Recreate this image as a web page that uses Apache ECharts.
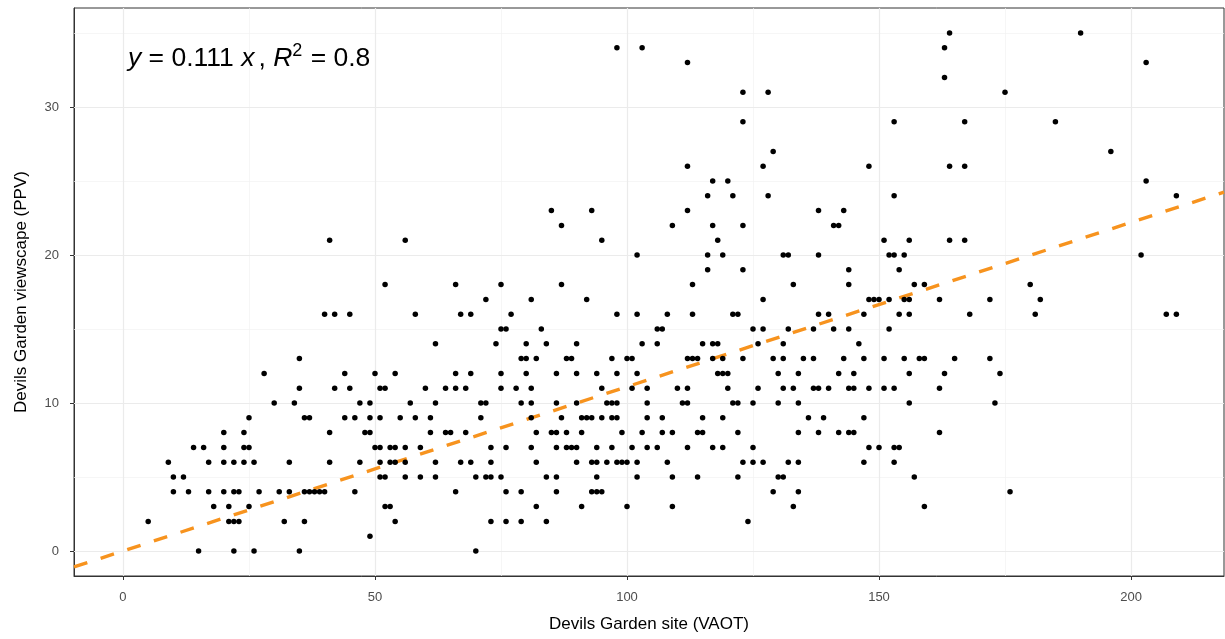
<!DOCTYPE html>
<html>
<head>
<meta charset="utf-8">
<script src="https://cdn.jsdelivr.net/npm/echarts@6/dist/echarts.min.js"></script>
<style>
  html, body { margin: 0; padding: 0; background: #fff; }
  #chart { width: 1225px; height: 639px; }
</style>
</head>
<body>
<div id="chart"></div>
<script>
// PPV levels (y) and the VAOT values (x) read at each level
const ppvLevels = [35, 34, 33, 32, 31, 29, 27, 26, 25, 24, 23, 22, 21, 20, 19, 18, 17, 16, 15, 14, 13, 12, 11, 10, 9, 8, 7, 6, 5, 4, 3, 2, 1, 0];
const vaotByLevel = [
  [164, 190],
  [98, 103, 163],
  [112, 203],
  [163],
  [123, 128, 175],
  [123, 153, 167, 185],
  [129, 196],
  [112, 127, 148, 164, 167],
  [117, 120, 203],
  [116, 121, 128, 153, 209],
  [85, 93, 112, 138, 143],
  [87, 109, 117, 123, 141, 142],
  [41, 56, 95, 118, 151, 156, 164, 167],
  [102, 116, 119, 131, 132, 138, 152, 153, 155, 202],
  [116, 123, 144, 154],
  [52, 66, 75, 87, 113, 133, 144, 157, 159, 180],
  [72, 81, 92, 127, 148, 149, 150, 152, 155, 156, 162, 172, 182],
  [40, 42, 45, 58, 67, 69, 77, 98, 102, 108, 113, 121, 122, 138, 140, 147, 154, 156, 168, 181, 207, 209],
  [75, 76, 83, 106, 107, 125, 127, 132, 137, 141, 144, 152],
  [62, 74, 80, 84, 90, 103, 106, 115, 117, 118, 126, 131, 146],
  [35, 79, 80, 82, 88, 89, 97, 100, 101, 112, 113, 114, 117, 119, 123, 129, 131, 135, 137, 143, 147, 151, 155, 158, 159, 165, 172],
  [28, 44, 50, 54, 66, 69, 75, 80, 86, 90, 94, 98, 102, 118, 119, 120, 130, 134, 142, 145, 156, 163, 174],
  [35, 42, 45, 51, 52, 60, 64, 66, 68, 75, 78, 81, 95, 101, 104, 110, 112, 120, 126, 131, 133, 137, 138, 140, 144, 145, 148, 151, 153, 162],
  [30, 34, 47, 49, 57, 62, 71, 72, 79, 81, 86, 90, 96, 97, 98, 104, 111, 112, 121, 122, 125, 130, 134, 156, 173],
  [25, 36, 37, 44, 46, 49, 51, 55, 58, 61, 71, 81, 87, 91, 92, 93, 95, 97, 98, 104, 107, 115, 119, 136, 139, 147],
  [20, 24, 41, 48, 49, 61, 64, 65, 68, 82, 85, 86, 88, 91, 99, 103, 107, 109, 114, 115, 122, 134, 138, 142, 144, 145, 162],
  [14, 16, 20, 24, 25, 50, 51, 53, 54, 56, 59, 73, 76, 81, 86, 88, 89, 90, 94, 97, 101, 104, 106, 112, 117, 119, 125, 148, 150, 153, 154],
  [9, 17, 20, 22, 24, 26, 33, 41, 47, 51, 53, 54, 56, 62, 67, 69, 73, 82, 90, 93, 94, 96, 98, 99, 100, 102, 108, 123, 125, 127, 132, 134, 147, 153],
  [10, 12, 51, 52, 56, 59, 62, 70, 72, 73, 75, 84, 86, 94, 102, 109, 114, 122, 130, 131, 157],
  [10, 13, 17, 20, 22, 23, 27, 31, 33, 36, 37, 38, 39, 40, 46, 66, 76, 79, 86, 93, 94, 95, 129, 134, 176],
  [18, 21, 25, 52, 53, 82, 91, 100, 109, 133, 159],
  [5, 21, 22, 23, 32, 36, 54, 73, 76, 79, 84, 124],
  [49],
  [15, 22, 26, 35, 70]
];

// fitted line through origin
const slope = 0.111;
const r2 = 0.8;

const xRange = [-9.72, 218.45];
const yRange = [-1.69, 36.69];
const xMajor = [0, 50, 100, 150, 200];
const xMinor = [25, 75, 125, 175];
const yMajor = [0, 10, 20, 30];
const yMinor = [5, 15, 25, 35];

const points = [];
ppvLevels.forEach((ppv, i) => {
  vaotByLevel[i].forEach(v => points.push([v, ppv]));
});

const fitLine = xRange.map(x => [x, slope * x]);

const minorStyle = { type: "solid", width: 0.7, color: "#f2f2f2" };
const majorStyle = { type: "solid", width: 1.2, color: "#ebebeb" };
const gridLines = []
  .concat(xMinor.map(v => ({ xAxis: v, lineStyle: minorStyle })))
  .concat(yMinor.map(v => ({ yAxis: v, lineStyle: minorStyle })))
  .concat(xMajor.map(v => ({ xAxis: v, lineStyle: majorStyle })))
  .concat(yMajor.map(v => ({ yAxis: v, lineStyle: majorStyle })));

const font = "Liberation Sans, Arial, sans-serif";
const chart = echarts.init(document.getElementById("chart"), null, { renderer: "canvas" });

chart.setOption({
  animation: false,
  backgroundColor: "#ffffff",
  grid: {
    left: 74,
    right: 1,
    top: 8,
    bottom: 63,
    show: true,
    borderColor: "#333333",
    borderWidth: 1,
    backgroundColor: "#ffffff"
  },
  xAxis: {
    type: "value",
    min: xRange[0],
    max: xRange[1],
    name: "Devils Garden site (VAOT)",
    nameLocation: "middle",
    nameGap: 40,
    nameTextStyle: { color: "#000", fontSize: 17, fontFamily: font },
    axisLine: { show: true, onZero: false, lineStyle: { color: "#333", width: 1 } },
    axisTick: { show: true, length: 4, lineStyle: { color: "#333" }, customValues: xMajor },
    axisLabel: { color: "#4d4d4d", fontSize: 13, fontFamily: font, margin: 15, customValues: xMajor },
    splitLine: { show: false }
  },
  yAxis: {
    type: "value",
    min: yRange[0],
    max: yRange[1],
    name: "Devils Garden viewscape (PPV)",
    nameLocation: "middle",
    nameGap: 44,
    nameTextStyle: { color: "#000", fontSize: 17, fontFamily: font },
    axisLine: { show: true, onZero: false, lineStyle: { color: "#333", width: 1 } },
    axisTick: { show: true, length: 4, lineStyle: { color: "#333" }, customValues: yMajor },
    axisLabel: { color: "#4d4d4d", fontSize: 13, fontFamily: font, margin: 15, customValues: yMajor },
    splitLine: { show: false }
  },
  graphic: [
    {
      type: "text",
      left: 128,
      top: 42,
      style: {
        text: "{i|y} = 0.111 {i|x}{c|,} {i|R}{s|2} = " + r2,
        font: "26.5px " + font,
        fill: "#000",
        rich: {
          i: { fontStyle: "italic", fontSize: 26.5, fontFamily: font },
          c: { fontSize: 26.5, fontFamily: font, padding: [0, 0, 0, 4] },
          s: { fontSize: 18, fontFamily: font, padding: [0, 1, 16, 0] }
        }
      },
      z: 10
    }
  ],
  series: [
    {
      name: "grid",
      type: "line",
      data: [],
      silent: true,
      z: 1,
      markLine: {
        silent: true,
        z: 1,
        symbol: "none",
        label: { show: false },
        emphasis: { disabled: true },
        animation: false,
        data: gridLines
      }
    },
    {
      name: "fit",
      type: "line",
      data: fitLine,
      showSymbol: false,
      symbol: "none",
      z: 3,
      lineStyle: { color: "#f7931e", width: 3.4, type: [14, 14] }
    },
    {
      name: "points",
      type: "scatter",
      data: points,
      symbol: "circle",
      symbolSize: 5.5,
      z: 4,
      itemStyle: { color: "#000", opacity: 1 }
    }
  ]
});
</script>
</body>
</html>
